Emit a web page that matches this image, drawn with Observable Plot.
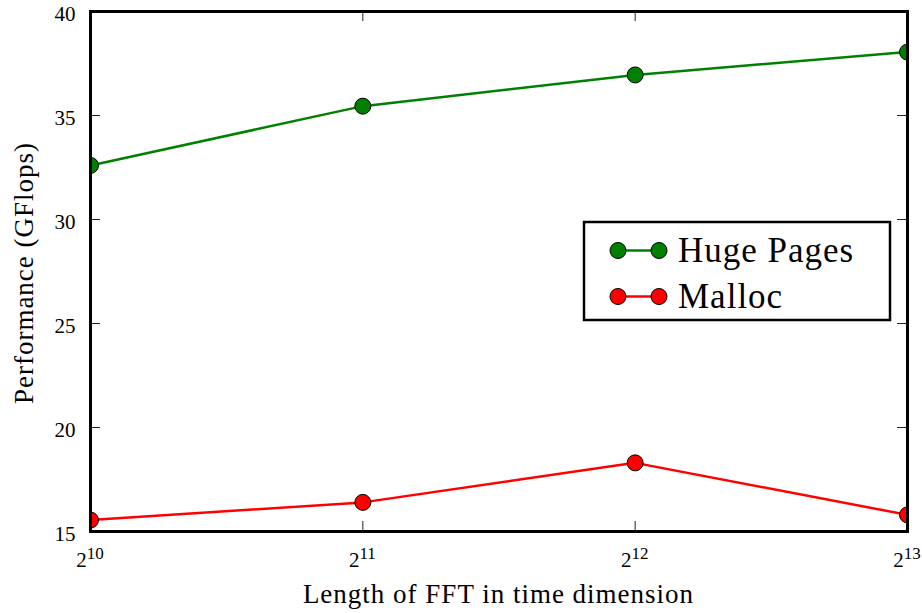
<!DOCTYPE html>
<html>
<head>
<meta charset="utf-8">
<script src="https://cdn.jsdelivr.net/npm/d3@7"></script>
<script src="https://cdn.jsdelivr.net/npm/@observablehq/plot@0.6"></script>
<style>
  html, body { margin: 0; padding: 0; background: white; }
  #chart svg { display: block; }
</style>
</head>
<body>
<div id="chart"></div>
<script>
// FFT length (time dimension) and measured performance in GFlops
const fftLengths = [1024, 2048, 4096, 8192];
const hugePages = [32.6, 35.45, 36.95, 38.05];
const malloc = [15.55, 16.4, 18.3, 15.8];
const seriesNames = ["Huge Pages", "Malloc"];
const seriesColors = ["#008000", "#ff0000"];
const yTicks = [15, 20, 25, 30, 35, 40];
const xLabel = "Length of FFT in time dimension";
const yLabel = "Performance (GFlops)";

const rows = [
  ...fftLengths.map((length, i) => ({length, value: hugePages[i], series: seriesNames[0]})),
  ...fftLengths.map((length, i) => ({length, value: malloc[i], series: seriesNames[1]}))
];

// layout
const W = 922, H = 613;
const M = {top: 11, right: 15, bottom: 82, left: 90};
const FW = W - M.left - M.right, FH = H - M.top - M.bottom;
const TICK = 10;
const FONT = "'Liberation Serif', 'Times New Roman', serif";

const plot = Plot.plot({
  width: W,
  height: H,
  marginTop: M.top,
  marginRight: M.right,
  marginBottom: M.bottom,
  marginLeft: M.left,
  style: {fontFamily: FONT, fontSize: "21px", color: "black", background: "white"},
  x: {type: "log", base: 2, domain: [fftLengths[0], fftLengths[fftLengths.length - 1]], axis: null},
  y: {domain: [yTicks[0], yTicks[yTicks.length - 1]]},
  color: {domain: seriesNames, range: seriesColors},
  marks: [
    Plot.line(rows, {x: "length", y: "value", z: "series", stroke: "series", strokeWidth: 2.5, clip: true}),
    Plot.dot(rows, {x: "length", y: "value", fill: "series", stroke: "black", strokeWidth: 1, r: 8, clip: true}),
    // inward ticks on all four sides
    Plot.tickX(fftLengths, {x: d => d, insetTop: FH - TICK, stroke: "#222", strokeWidth: 1}),
    Plot.tickX(fftLengths, {x: d => d, insetBottom: FH - TICK, stroke: "#222", strokeWidth: 1}),
    Plot.tickY(yTicks, {y: d => d, insetRight: FW - TICK, stroke: "#222", strokeWidth: 1}),
    Plot.tickY(yTicks, {y: d => d, insetLeft: FW - TICK, stroke: "#222", strokeWidth: 1}),
    Plot.axisY(yTicks, {tickSize: 0, tickPadding: 15, fontSize: 21, dy: 3, label: null, fill: "black"}),
    Plot.frame({stroke: "black", strokeWidth: 3})
  ]
});

const svg = d3.select(plot);
const sx = plot.scale("x");

// x tick labels as powers of two
const xt = svg.append("g").attr("font-family", FONT).attr("fill", "black").attr("text-anchor", "middle");
fftLengths.forEach(len => {
  const t = xt.append("text").attr("x", sx.apply(len)).attr("y", H - M.bottom + 36).attr("font-size", 21);
  t.append("tspan").text("2");
  t.append("tspan").attr("dy", -8).attr("font-size", 17).text(String(Math.round(Math.log2(len))));
});

// axis titles
svg.append("text")
  .attr("x", M.left + FW / 2).attr("y", H - 10)
  .attr("text-anchor", "middle").attr("font-family", FONT).attr("font-size", 27)
  .attr("letter-spacing", 1).attr("fill", "black")
  .text(xLabel);
svg.append("text")
  .attr("transform", `translate(33,${M.top + FH / 2 + 2}) rotate(-90)`)
  .attr("text-anchor", "middle").attr("font-family", FONT).attr("font-size", 27)
  .attr("letter-spacing", 1).attr("fill", "black")
  .text(yLabel);

// legend box
const lg = svg.append("g").attr("transform", "translate(584,222)").attr("text-anchor", "start");
lg.append("rect").attr("width", 306).attr("height", 98)
  .attr("fill", "white").attr("stroke", "black").attr("stroke-width", 2.5);
seriesNames.forEach((name, i) => {
  const cy = 28.5 + i * 46;
  lg.append("line").attr("x1", 34).attr("x2", 75).attr("y1", cy).attr("y2", cy)
    .attr("stroke", seriesColors[i]).attr("stroke-width", 2.5);
  [34, 75].forEach(cx => lg.append("circle").attr("cx", cx).attr("cy", cy).attr("r", 8)
    .attr("fill", seriesColors[i]).attr("stroke", "black").attr("stroke-width", 1));
  lg.append("text").attr("x", 94).attr("y", cy + 11)
    .attr("text-anchor", "start")
    .attr("font-family", FONT).attr("font-size", 35).attr("letter-spacing", 1).attr("fill", "black")
    .text(name);
});

document.getElementById("chart").appendChild(plot);
</script>
</body>
</html>
